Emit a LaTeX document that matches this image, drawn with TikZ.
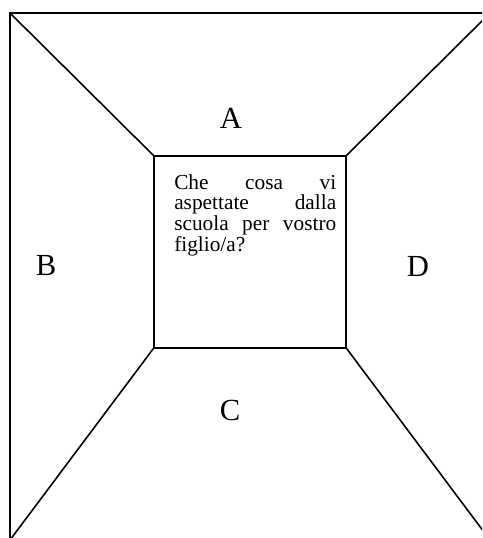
\documentclass[tikz,border=0pt]{standalone}
\usepackage{fontspec}
\setmainfont{Liberation Serif}
\usepackage{tikz}

\begin{document}
\begin{tikzpicture}[
    x=0.75pt, y=-0.75pt,
    wall/.style={line width=1.2pt, line cap=rect},
    face/.style={font=\fontsize{23}{26}\selectfont, inner sep=0pt},
    question/.style={
        text width=121.5pt, align=justify, inner sep=0pt,
        font=\fontsize{16}{15.6}\selectfont
    }
]
\useasboundingbox (0,0) rectangle (482,538);
\clip (0,0) rectangle (482,538);

% Outer corners (the room extends past the page)
\coordinate (TL) at (10,13);
\coordinate (TR) at (490,13);
\coordinate (BL) at (10,540);
\coordinate (BR) at (490,540);

% Back wall
\node[draw, line width=1.2pt, minimum width=144pt, minimum height=144pt, inner sep=0pt] (back) at (250,252) {};
\node[question, anchor=north west] (ask) at (174,174)
    {Che cosa vi\linebreak aspettate dalla\linebreak scuola per vostro\linebreak figlio/a?};

% Walls
\draw[wall] (BL) -- (TL) -- (TR);
\draw[wall] (TL) -- (back.north west);
\draw[wall] (TR) -- (back.north east);
\draw[wall] (BL) -- (back.south west);
\draw[wall] (BR) -- (back.south east);

% Labels
\node[face] (lblA) at (231,118) {A};
\node[face] (lblB) at (46,266) {B};
\node[face] (lblC) at (230,410) {C};
\node[face] (lblD) at (418,266) {D};

\end{tikzpicture}
\end{document}
